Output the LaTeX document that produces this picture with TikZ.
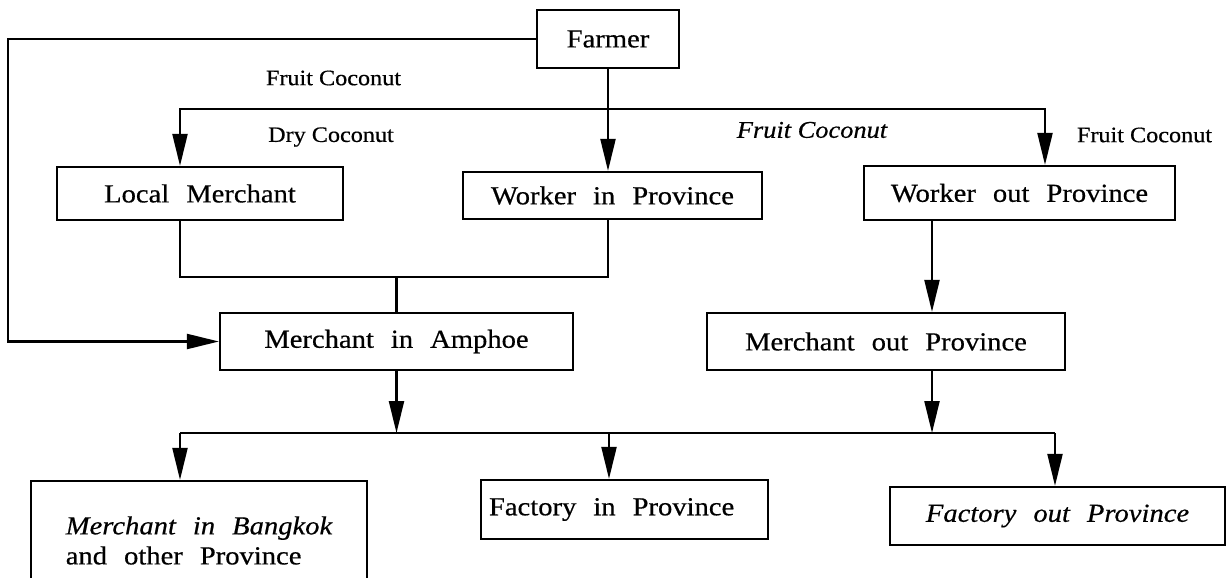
\documentclass[tikz,border=0pt]{standalone}
\usepackage{fontspec}
\setmainfont{Liberation Serif}
\newfontfamily\diagfont{Liberation Serif}[FakeStretch=1.1,FakeBold=0.5]
\newcommand\widespaces{\spaceskip 17pt plus 2pt\relax}
\newcommand\boxtextfont{\diagfont\fontsize{26}{30}\selectfont\widespaces}
\newcommand\lbltextfont{\diagfont\fontsize{22}{26}\selectfont}
\usetikzlibrary{arrows.meta}
\begin{document}
\begin{tikzpicture}[x=1pt,y=-1pt,
  line width=2.2pt,
  arr/.style={-{Triangle[length=32pt,width=15pt]}},
  box/.style={draw, inner sep=0pt, font=\boxtextfont},
  ibox/.style={box, font=\boxtextfont\itshape},
  lbl/.style={inner sep=0pt, font=\lbltextfont},
  ilbl/.style={inner sep=0pt, font=\lbltextfont\fontsize{24}{28}\selectfont\itshape}]
\useasboundingbox (0,0) rectangle (1227,578);

\node[box, minimum width=142pt, minimum height=58pt] (farmer) at (608,39) {Farmer};
\node[box, minimum width=286pt, minimum height=53pt] (local) at (200,193.5) {Local Merchant};
\node[box, minimum width=299pt, minimum height=47pt] (workin) at (612.5,195.5) {Worker in Province};
\node[box, minimum width=311pt, minimum height=54pt] (workout) at (1019.5,193) {Worker out Province};
\node[box, minimum width=353pt, minimum height=57pt] (amphoe) at (396.5,341.5) {Merchant in Amphoe};
\node[box, minimum width=358pt, minimum height=57pt] (merout) at (886,341.5) {Merchant out Province};
\node[box, minimum width=336pt, minimum height=119pt, align=left] (bangkok) at (199,540.5) {\itshape Merchant in Bangkok\\and other Province};
\node[box, text width=271pt, align=left, inner xsep=8pt, minimum height=59pt] (factin) at (624.5,509.5) {\widespaces Factory in Province};
\node[ibox, minimum width=335pt, minimum height=58pt] (factout) at (1057.5,516) {Factory out Province};

\node[lbl] (fc1) at (333.5,78) {Fruit Coconut};
\node[lbl] (dc) at (331,137) {Dry Coconut};
\node[ilbl] (fc2) at (812,130) {Fruit Coconut};
\node[lbl] (fc3) at (1144.5,135) {Fruit Coconut};

\coordinate (split) at (608,109);
\coordinate (left) at (8,0);
\coordinate (join) at (396.5,277);
\coordinate (mx) at (932,0);
\coordinate (bA) at (180,433);
\coordinate (bB) at (609,433);
\coordinate (bC) at (1055,433);

\draw[arr] (farmer.west) -- (farmer.west -| left) |- (amphoe.west);
\draw[arr] (farmer.south) -- (workin.north -| farmer.south);
\draw[arr] (split) -| ([xshift=-20pt]local.north);
\draw[arr] (split) -| ([xshift=25.5pt]workout.north);
\draw ([xshift=-20pt]local.south) |- (join);
\draw (workin.south -| farmer.south) |- (join);
\draw (join) -- (amphoe.north);
\draw[arr] (workout.south -| mx) -- (merout.north -| mx);
\draw[arr] (merout.south -| mx) -- (bC -| mx);
\draw[arr] (amphoe.south) -- (bA -| amphoe.south);
\draw (bA) -- (bC);
\draw[arr] (bA) -- (bA |- bangkok.north);
\draw[arr] (bB) -- (bB |- factin.north);
\draw[arr] (bC) -- (bC |- factout.north);
\end{tikzpicture}
\end{document}
